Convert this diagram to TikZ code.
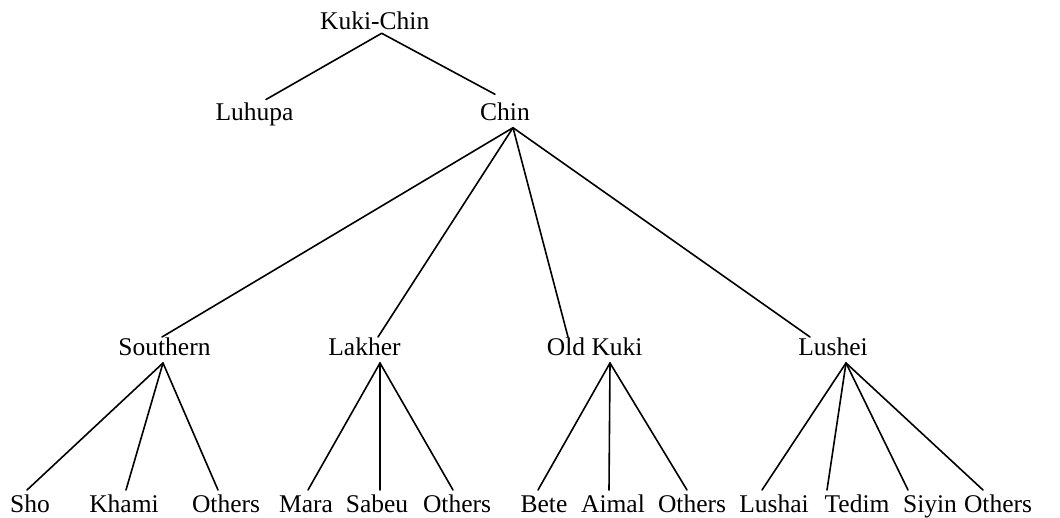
\documentclass[tikz,border=0pt]{standalone}
\usepackage{fontspec}
\setmainfont{Liberation Serif}
\begin{document}
\begin{tikzpicture}[x=1pt,y=-1pt,
  lang/.style={anchor=base,inner sep=0pt,font=\fontsize{25.5}{30}\selectfont},
  branch/.style={line width=1.6pt,line cap=round,line join=round}]
\useasboundingbox (0,0) rectangle (1060,518);

% root
\node[lang] (kukichin) at (374.7,29.3) {Kuki-Chin};
\coordinate (kukichin-b) at (381.7,33.3);

% first split
\node[lang] (luhupa) at (254.5,121) {Luhupa};
\coordinate (luhupa-t) at (266,99.5);
\node[lang] (chin) at (505,121) {Chin};
\coordinate (chin-t) at (495,94.3);
\coordinate (chin-b) at (513,127.7);

% Chin subgroups
\node[lang] (southern) at (164.5,356) {Southern};
\coordinate (southern-t) at (162,337);
\coordinate (southern-b) at (163,363);
\node[lang] (lakher) at (364.5,356) {Lakher};
\coordinate (lakher-t) at (378,337);
\coordinate (lakher-b) at (380,363);
\node[lang] (oldkuki) at (594.7,356) {Old Kuki};
\coordinate (oldkuki-t) at (568,337);
\coordinate (oldkuki-b) at (610,363);
\node[lang] (lushei) at (833,356) {Lushei};
\coordinate (lushei-t) at (810,337);
\coordinate (lushei-b) at (846,363);

% languages
\node[lang] (sho)     at (30,512)  {Sho};
\coordinate (sho-t) at (27,490);
\node[lang] (khami)   at (124,512) {Khami};
\coordinate (khami-t) at (126,490);
\node[lang] (sothers) at (226,512) {Others};
\coordinate (sothers-t) at (218,490);

\node[lang] (mara)    at (306,512) {Mara};
\coordinate (mara-t) at (308,490);
\node[lang] (sabeu)   at (377,512) {Sabeu};
\coordinate (sabeu-t) at (380,490);
\node[lang] (lothers) at (457,512) {Others};
\coordinate (lothers-t) at (453,490);

\node[lang] (bete)    at (544,512) {Bete};
\coordinate (bete-t) at (538,490);
\node[lang] (aimal)   at (613,512) {Aimal};
\coordinate (aimal-t) at (609,490);
\node[lang] (oothers) at (692,512) {Others};
\coordinate (oothers-t) at (687,490);

\node[lang] (lushai)  at (774,512) {Lushai};
\coordinate (lushai-t) at (762,490);
\node[lang] (tedim)   at (857,512) {Tedim};
\coordinate (tedim-t) at (827,490);
\node[lang] (siyin)   at (930,512) {Siyin};
\coordinate (siyin-t) at (908,490);
\node[lang] (lothers2) at (998,512) {Others};
\coordinate (lothers2-t) at (983,490);

% branches
\draw[branch] (luhupa-t) -- (kukichin-b) -- (chin-t);
\foreach \c in {southern,lakher,oldkuki,lushei}
  \draw[branch] (chin-b) -- (\c-t);
\foreach \c in {sho,khami,sothers}
  \draw[branch] (southern-b) -- (\c-t);
\foreach \c in {mara,sabeu,lothers}
  \draw[branch] (lakher-b) -- (\c-t);
\foreach \c in {bete,aimal,oothers}
  \draw[branch] (oldkuki-b) -- (\c-t);
\foreach \c in {lushai,tedim,siyin,lothers2}
  \draw[branch] (lushei-b) -- (\c-t);
\end{tikzpicture}
\end{document}
